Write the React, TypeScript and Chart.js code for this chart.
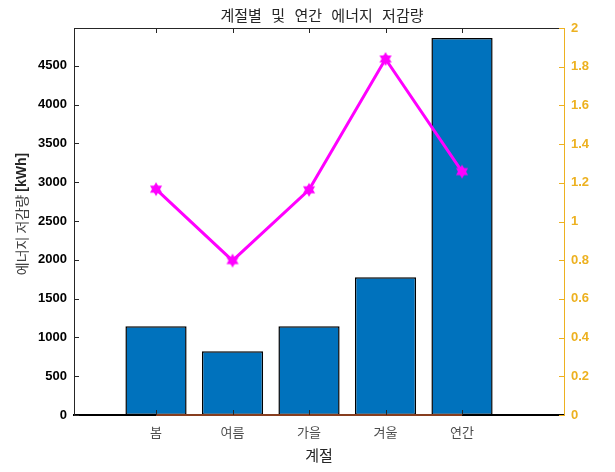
import React, { useEffect, useRef } from "react";
import { Chart, registerables } from "chart.js";

Chart.register(...registerables);

const categories = ["봄", "여름", "가을", "겨울", "연간"];
const savingKWh = [1144, 821, 1144, 1775, 4857];
const ratioValues = [1.167, 0.798, 1.164, 1.84, 1.258];
const baselineValues = [0, 0, 0, 0, 0];
const leftTicks = [0, 500, 1000, 1500, 2000, 2500, 3000, 3500, 4000, 4500];
const rightTicks = [0, 0.2, 0.4, 0.6, 0.8, 1, 1.2, 1.4, 1.6, 1.8, 2];

const titleText = "계절별 및 연간 에너지 저감량";
const xTitle = "계절";
const yTitleMain = "에너지 저감량 ";
const yTitleUnit = "[kWh]";

const KR = '"Noto Sans CJK KR", "Liberation Sans", sans-serif';
const NUM = '"Liberation Sans", Arial, sans-serif';
const ORANGE = "#EDB120";

function makeHexagram(r: number, color: string): HTMLCanvasElement {
  const c = document.createElement("canvas");
  const s = Math.ceil(r * 2 + 2);
  c.width = s;
  c.height = s;
  const ctx = c.getContext("2d")!;
  const cx = s / 2;
  const cy = s / 2;
  ctx.fillStyle = color;
  for (let t = 0; t < 2; t++) {
    ctx.beginPath();
    for (let k = 0; k < 3; k++) {
      const a = -Math.PI / 2 + t * Math.PI + (k * 2 * Math.PI) / 3;
      const x = cx + r * Math.cos(a);
      const y = cy + r * Math.sin(a);
      if (k === 0) ctx.moveTo(x, y);
      else ctx.lineTo(x, y);
    }
    ctx.closePath();
    ctx.fill();
  }
  return c;
}

const decorPlugin = {
  id: "decor",
  afterDraw(chart: any) {
    const ctx = chart.ctx;
    const { left, right, top, bottom } = chart.chartArea;
    const x = chart.scales.x;
    const y = chart.scales.y;
    const y1 = chart.scales.y1;
    ctx.save();
    ctx.strokeStyle = "#262626";
    ctx.lineWidth = 1;
    ctx.beginPath();
    ctx.moveTo(left, top + 0.5);
    ctx.lineTo(right, top + 0.5);
    ctx.stroke();
    x.ticks.forEach((t: any) => {
      const px = Math.round(x.getPixelForValue(t.value)) + 0.5;
      ctx.beginPath();
      ctx.moveTo(px, bottom);
      ctx.lineTo(px, bottom - 5);
      ctx.moveTo(px, top);
      ctx.lineTo(px, top + 5);
      ctx.stroke();
    });
    y.ticks.forEach((t: any) => {
      const py = Math.round(y.getPixelForValue(t.value)) + 0.5;
      ctx.beginPath();
      ctx.moveTo(left, py);
      ctx.lineTo(left + 5, py);
      ctx.stroke();
    });
    ctx.strokeStyle = ORANGE;
    y1.ticks.forEach((t: any) => {
      const py = Math.round(y1.getPixelForValue(t.value)) + 0.5;
      ctx.beginPath();
      ctx.moveTo(right, py);
      ctx.lineTo(right - 5, py);
      ctx.stroke();
    });
    ctx.fillStyle = "#262626";
    ctx.font = `15px ${KR}`;
    ctx.textAlign = "center";
    ctx.textBaseline = "middle";
    try {
      (ctx as any).wordSpacing = "6px";
    } catch (e) {}
    ctx.fillText(titleText, 322, 15);
    (ctx as any).wordSpacing = "0px";
    const mainFont = `14px ${KR}`;
    const unitFont = `bold 14px ${NUM}`;
    ctx.font = mainFont;
    const w1 = ctx.measureText(yTitleMain).width;
    ctx.font = unitFont;
    const w2 = ctx.measureText(yTitleUnit).width;
    const total = w1 + w2;
    ctx.translate(22, 214);
    ctx.rotate(-Math.PI / 2);
    ctx.textAlign = "left";
    ctx.font = mainFont;
    ctx.fillStyle = "#404040";
    ctx.fillText(yTitleMain, -total / 2, 0);
    ctx.font = unitFont;
    ctx.fillStyle = "#262626";
    ctx.fillText(yTitleUnit, -total / 2 + w1, 0);
    ctx.restore();
  },
};

export default function App() {
  const ref = useRef<HTMLCanvasElement | null>(null);
  useEffect(() => {
    if (!ref.current) return;
    const star = makeHexagram(7, "#FF00FF");
    const chart = new Chart(ref.current, {
      type: "bar",
      data: {
        datasets: [
          {
            type: "line",
            data: categories.map((_, i) => ({ x: i + 1, y: ratioValues[i] })),
            yAxisID: "y1",
            borderColor: "#FF00FF",
            backgroundColor: "#FF00FF",
            borderWidth: 3,
            pointStyle: star as any,
            pointRadius: 7,
            order: 0,
          } as any,
          {
            type: "line",
            data: categories.map((_, i) => ({ x: i + 1, y: baselineValues[i] })),
            yAxisID: "y1",
            borderColor: "#B5532A",
            borderWidth: 1.5,
            pointRadius: 0,
            order: 1,
            clip: false,
          } as any,
          {
            type: "bar",
            data: categories.map((_, i) => ({ x: i + 1, y: savingKWh[i] })),
            yAxisID: "y",
            backgroundColor: "#0072BD",
            borderColor: "#000000",
            borderWidth: 1.5,
            borderSkipped: false,
            barPercentage: 0.8,
            categoryPercentage: 1,
            order: 2,
          } as any,
        ],
      },
      options: {
        animation: false,
        responsive: false,
        maintainAspectRatio: false,
        layout: { padding: { top: 28, left: 0, right: 0, bottom: 0 } },
        plugins: {
          legend: { display: false },
          title: { display: false },
          tooltip: { enabled: false },
        },
        scales: {
          x: {
            type: "linear",
            min: -0.072,
            max: 6.333,
            offset: false,
            grid: { display: false, drawTicks: false },
            border: { display: true, color: "#000000", width: 2 },
            afterBuildTicks: (scale: any) => {
              scale.ticks = categories.map((_, i) => ({ value: i + 1 }));
            },
            ticks: {
              padding: 9,
              color: "#4D4D4D",
              font: { family: KR, size: 13 },
              maxRotation: 0,
              autoSkip: false,
              callback: (_v: any, i: number) => categories[i],
            },
            title: {
              display: true,
              text: xTitle,
              color: "#262626",
              font: { family: KR, size: 15 },
              padding: { top: 0, bottom: 8 },
            },
            afterFit: (scale: any) => {
              scale.height = 57;
            },
          },
          y: {
            type: "linear",
            position: "left",
            min: 0,
            max: 4986,
            grid: { display: false, drawTicks: false },
            border: { display: true, color: "#262626", width: 1 },
            afterBuildTicks: (scale: any) => {
              scale.ticks = leftTicks.map((v) => ({ value: v }));
            },
            ticks: {
              padding: 7,
              color: "#000000",
              font: { family: NUM, size: 13, weight: "bold" },
              callback: (v: any) => String(v),
            },
            afterFit: (scale: any) => {
              scale.width = 74;
            },
          },
          y1: {
            type: "linear",
            position: "right",
            min: 0,
            max: 2,
            grid: { display: false, drawTicks: false },
            border: { display: true, color: ORANGE, width: 1 },
            afterBuildTicks: (scale: any) => {
              scale.ticks = rightTicks.map((v) => ({ value: v }));
            },
            ticks: {
              padding: 7,
              color: ORANGE,
              font: { family: NUM, size: 13, weight: "bold" },
              callback: (v: any) => String(Math.round(Number(v) * 10) / 10),
            },
            afterFit: (scale: any) => {
              scale.width = 51;
            },
          },
        },
      },
      plugins: [decorPlugin],
    });
    return () => chart.destroy();
  }, []);
  return (
    <div style={{ position: "absolute", left: 0, top: 0, width: 615, height: 472, background: "#fff" }}>
      <canvas ref={ref} width={615} height={472} style={{ width: 615, height: 472 }} />
    </div>
  );
}
